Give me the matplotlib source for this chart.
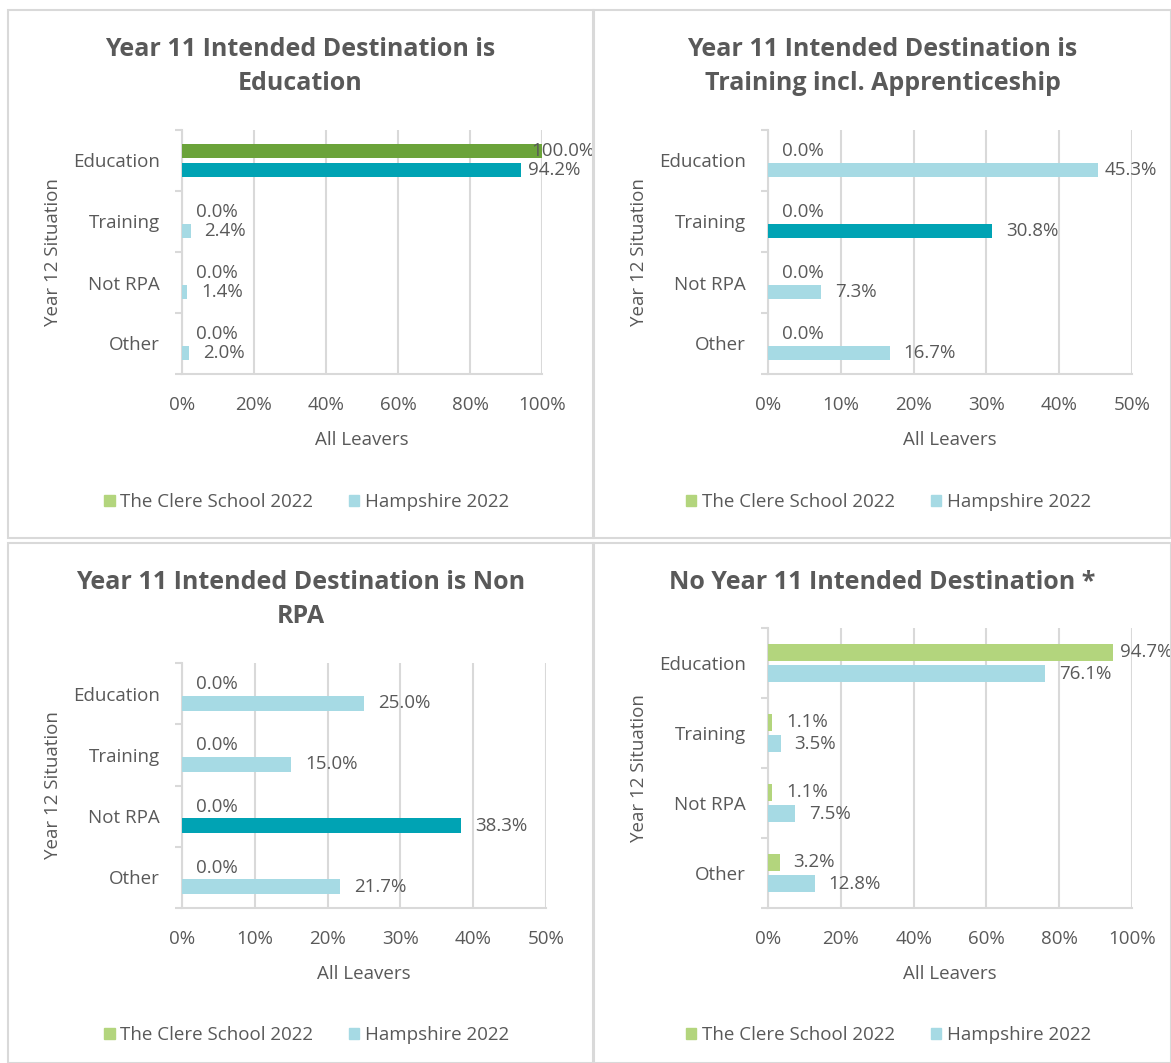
import matplotlib
matplotlib.use("Agg")
import matplotlib.pyplot as plt
from matplotlib.patches import Rectangle, Patch
from matplotlib.ticker import PercentFormatter

plt.rcParams["font.family"] = ["Open Sans", "DejaVu Sans"]

W, H = 1171, 1063
GREY = "#595959"
GRID = "#D9D9D9"
GREEN = "#B3D57D"
GREEN_DARK = "#6BA33A"
BLUE = "#A6DAE4"
BLUE_DARK = "#00A3B4"
FS = 13.5

categories = ["Education", "Training", "Not RPA", "Other"]
series_names = ["The Clere School 2022", "Hampshire 2022"]

titles = [
    "Year 11 Intended Destination is\nEducation",
    "Year 11 Intended Destination is\nTraining incl. Apprenticeship",
    "Year 11 Intended Destination is Non\nRPA",
    "No Year 11 Intended Destination *",
]
clere = [
    [100.0, 0.0, 0.0, 0.0],
    [0.0, 0.0, 0.0, 0.0],
    [0.0, 0.0, 0.0, 0.0],
    [94.7, 1.1, 1.1, 3.2],
]
hampshire = [
    [94.2, 2.4, 1.4, 2.0],
    [45.3, 30.8, 7.3, 16.7],
    [25.0, 15.0, 38.3, 21.7],
    [76.1, 3.5, 7.5, 12.8],
]
highlight = [0, 1, 2, None]
x_max = [100, 50, 50, 100]
x_step = [20, 10, 10, 20]

# panel boxes and plot areas, in pixels (left, top, right, bottom)
panels = [(8, 10, 593, 538), (594, 10, 1171, 538),
          (8, 543, 593, 1063), (594, 543, 1171, 1063)]
plot_areas = [(182, 130, 542, 374), (768, 130, 1132, 374),
              (182, 663, 546, 908), (768, 628, 1132, 908)]


def fig_rect(l, t, r, b):
    return [l / W, 1 - b / H, (r - l) / W, (b - t) / H]


fig = plt.figure(figsize=(W / 100, H / 100), dpi=100)

for i in range(4):
    pl, pt, pr, pb = panels[i]
    fig.patches.append(Rectangle((pl / W, 1 - pb / H), (pr - pl) / W, (pb - pt) / H,
                                 transform=fig.transFigure, fill=False,
                                 edgecolor=GRID, linewidth=1.5))
    ax = fig.add_axes(fig_rect(*plot_areas[i]))
    bh = 0.245
    for j, cat in enumerate(categories):
        gc = GREEN_DARK if highlight[i] == j else GREEN
        bc = BLUE_DARK if highlight[i] == j else BLUE
        ax.barh(j - 0.156, clere[i][j], height=bh, color=gc, zorder=3)
        ax.barh(j + 0.156, hampshire[i][j], height=bh, color=bc, zorder=3)
        for v, y in ((clere[i][j], j - 0.156), (hampshire[i][j], j + 0.156)):
            if v >= x_max[i] * 0.99:
                off = -8
            elif v >= x_max[i] * 0.9:
                off = 5
            else:
                off = 10
            ax.annotate(f"{v:.1f}%", (v, y), xytext=(off, 0), textcoords="offset points",
                        ha="left", va="center", fontsize=FS, color=GREY,
                        annotation_clip=False, zorder=4)
    ax.set_ylim(3.5, -0.5)
    ax.set_xlim(0, x_max[i])
    ax.set_xticks(range(0, x_max[i] + 1, x_step[i]))
    ax.xaxis.set_major_formatter(PercentFormatter(decimals=0))
    ax.set_yticks(range(len(categories)))
    ax.set_yticklabels(categories)
    ax.set_yticks([-0.5, 0.5, 1.5, 2.5, 3.5], minor=True)
    ax.tick_params(axis="y", which="major", length=0, pad=16, labelsize=FS, labelcolor=GREY)
    ax.tick_params(axis="y", which="minor", length=5, color=GRID, width=1.5)
    ax.tick_params(axis="x", length=0, pad=16, labelsize=FS, labelcolor=GREY)
    ax.grid(axis="x", color=GRID, linewidth=1.5, zorder=0)
    for s in ("top", "right"):
        ax.spines[s].set_visible(False)
    for s in ("left", "bottom"):
        ax.spines[s].set_color(GRID)
        ax.spines[s].set_linewidth(1.5)
    ax.set_xlabel("All Leavers", fontsize=FS, color=GREY, labelpad=12)
    ax.set_ylabel("Year 12 Situation", fontsize=FS, color=GREY, labelpad=8)
    ax.set_facecolor("none")

    cx = (pl + pr) / 2 / W
    fig.text(cx, 1 - (pt + 27) / H, titles[i], ha="center", va="top", fontsize=18,
             fontweight="bold", color=GREY, linespacing=1.45)
    handles = [Patch(color=GREEN), Patch(color=BLUE)]
    fig.legend(handles, series_names, loc="center", bbox_to_anchor=(cx + 6 / W, 1 - (pt + 492) / H),
               ncol=2, frameon=False, fontsize=FS, labelcolor=GREY,
               handlelength=0.55, handleheight=0.55, handletextpad=0.3, columnspacing=1.9)

fig.savefig("out.png", dpi=100, facecolor="white")
